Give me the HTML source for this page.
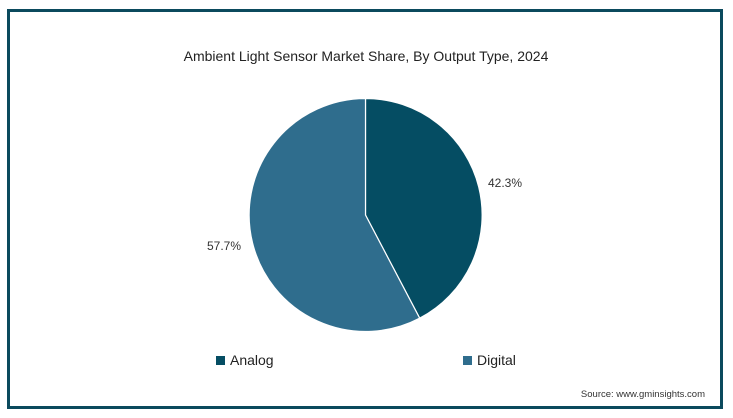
<!DOCTYPE html>
<html><head><style>
body{margin:0;background:#fff;}
svg{display:block;font-family:"Liberation Sans",sans-serif;}
</style></head><body>
<svg width="733" height="418" viewBox="0 0 733 418">
<rect x="8.5" y="10.5" width="713" height="397" fill="#fff" stroke="#0b4a5d" stroke-width="3"/>
<text x="366" y="61" text-anchor="middle" font-size="14" fill="#222">Ambient Light Sensor Market Share, By Output Type, 2024</text>
<path d="M365.5,215 L365.5,98.5 A116.5,116.5 0 0 1 419.7,318.2 Z" fill="#054d63" stroke="#fff" stroke-width="1.2"/>
<path d="M365.5,215 L419.7,318.2 A116.5,116.5 0 1 1 365.5,98.5 Z" fill="#2f6d8d" stroke="#fff" stroke-width="1.2"/>
<text x="488" y="187" font-size="12" fill="#333">42.3%</text>
<text x="207" y="250" font-size="12" fill="#333">57.7%</text>
<rect x="216" y="356" width="9" height="9" fill="#054d63"/>
<text x="230" y="365" font-size="14" fill="#222">Analog</text>
<rect x="463" y="356" width="9" height="9" fill="#2f6d8d"/>
<text x="477" y="365" font-size="14" fill="#222">Digital</text>
<text x="705" y="397" text-anchor="end" font-size="9.5" fill="#333">Source: www.gminsights.com</text>
</svg>
</body></html>
